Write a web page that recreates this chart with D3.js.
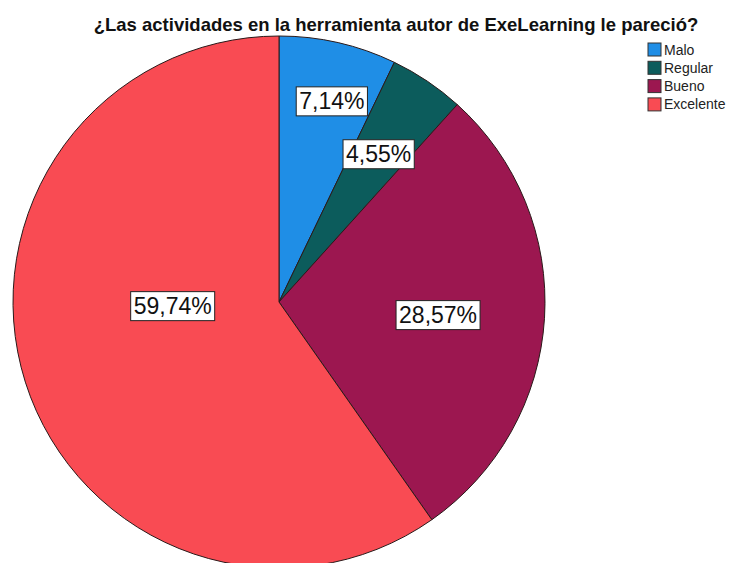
<!DOCTYPE html>
<html>
<head>
<meta charset="utf-8">
<script src="https://cdn.jsdelivr.net/npm/d3@7"></script>
<style>
  html, body { margin: 0; padding: 0; background: #ffffff; }
  svg { display: block; font-family: Arial, "Liberation Sans", sans-serif; }
</style>
</head>
<body>
<svg id="chart" width="735" height="563"></svg>
<script>
// Survey answers and their share of responses (percent)
const categories = ["Malo", "Regular", "Bueno", "Excelente"];
const percents = [7.14, 4.55, 28.57, 59.74];
const colors = ["#1f8ee6", "#0c5c5c", "#9c1750", "#f94b53"];
const titleText = "¿Las actividades en la herramienta autor de ExeLearning le pareció?";

// Label placement inside each slice: fraction of the radius and angle shift (degrees)
const labelRadius = [0.78, 0.67, 0.60, 0.40];
const labelShift = [1.9, 0.1, 1.2, 15.3];

const width = 735, height = 563;
const cx = 279, cy = 302, radius = 266;

const svg = d3.select("#chart");

// Title
svg.append("text")
  .attr("x", 396).attr("y", 31)
  .attr("text-anchor", "middle")
  .attr("font-size", 18.5)
  .attr("font-weight", "bold")
  .attr("fill", "#111")
  .text(titleText);

const data = categories.map((c, i) => ({ name: c, value: percents[i], color: colors[i], i }));

const pie = d3.pie().sort(null).value(d => d.value);
const arc = d3.arc().innerRadius(0).outerRadius(radius);

const g = svg.append("g").attr("transform", `translate(${cx},${cy})`);
const arcs = pie(data);

g.selectAll("path.slice")
  .data(arcs)
  .join("path")
  .attr("class", "slice")
  .attr("d", arc)
  .attr("fill", d => d.data.color)
  .attr("stroke", "#2a1a1a")
  .attr("stroke-width", 1);

const fmt = v => d3.format(".2f")(v).replace(".", ",") + "%";

// Percentage labels in white boxes
const labels = g.selectAll("g.lab")
  .data(arcs)
  .join("g")
  .attr("class", "lab")
  .attr("transform", d => {
    const mid = (d.startAngle + d.endAngle) / 2 + labelShift[d.data.i] * Math.PI / 180;
    const r = radius * labelRadius[d.data.i];
    return `translate(${r * Math.sin(mid)},${-r * Math.cos(mid)})`;
  });

labels.each(function(d) {
  const sel = d3.select(this);
  const t = sel.append("text")
    .attr("text-anchor", "middle")
    .attr("dy", "0.35em")
    .attr("font-size", 23)
    .attr("fill", "#111")
    .text(fmt(d.data.value));
  const w = t.node().getComputedTextLength();
  sel.insert("rect", "text")
    .attr("x", -w / 2 - 3)
    .attr("y", -14.5)
    .attr("width", w + 6)
    .attr("height", 29)
    .attr("fill", "#ffffff")
    .attr("stroke", "#222")
    .attr("stroke-width", 1);
});

// Legend
const legend = svg.append("g").attr("transform", "translate(648,43)");
const rows = legend.selectAll("g")
  .data(data)
  .join("g")
  .attr("transform", (d, i) => `translate(0,${i * 18.3})`);
rows.append("rect")
  .attr("width", 13).attr("height", 13)
  .attr("fill", d => d.color)
  .attr("stroke", "#333").attr("stroke-width", 1);
rows.append("text")
  .attr("x", 16).attr("y", 11.5)
  .attr("font-size", 14)
  .attr("fill", "#222")
  .text(d => d.name);
</script>
</body>
</html>
